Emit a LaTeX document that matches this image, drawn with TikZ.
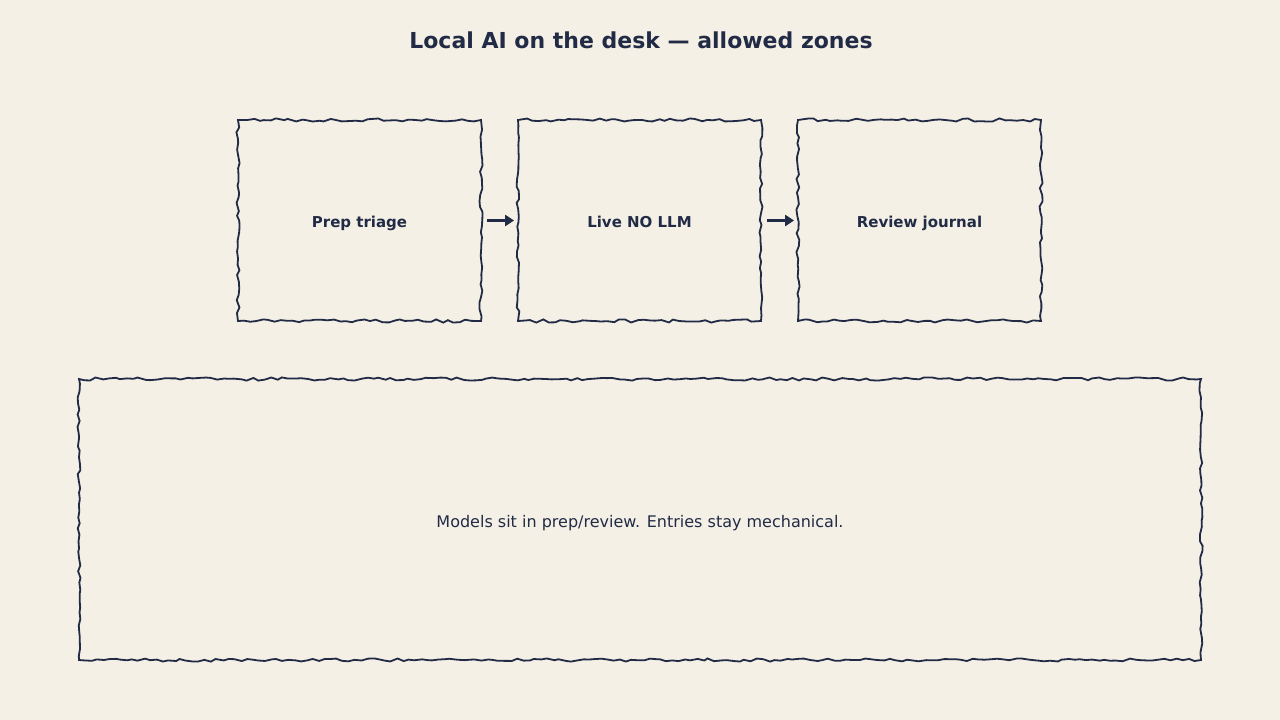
\documentclass[tikz,border=0pt]{standalone}
\usepackage{fontspec}
\setmainfont{DejaVu Sans}
\usetikzlibrary{decorations.pathmorphing,arrows.meta}
\definecolor{bg}{HTML}{F4F0E6}
\definecolor{ink}{HTML}{222B45}
\begin{document}
\begin{tikzpicture}[x=1pt,y=-1pt,
  rough/.style={draw=ink, line width=1.8pt, decorate,
    decoration={random steps, segment length=6pt, amplitude=1.6pt}},
  zone/.style={rough, minimum width=243pt, minimum height=201pt, inner sep=0pt,
    text height=13pt, text depth=0pt,
    text=ink, font=\bfseries\fontsize{15}{18}\selectfont},
  flow/.style={draw=ink, line width=3pt, -{Triangle[length=9pt,width=11pt]},
    shorten <=5pt, shorten >=3pt}]
\pgfmathsetseed{7}
\fill[bg] (0,0) rectangle (1280,720);
\useasboundingbox (0,0) rectangle (1280,720);
\node[text=ink, font=\bfseries\fontsize{22}{26}\selectfont] (title) at (641,40) {Local AI on the desk — allowed zones};
\node[zone] (prep) at (359.5,220.5) {Prep triage};
\node[zone] (live) at (639.5,220.5) {Live NO LLM};
\node[zone] (rev) at (919.5,220.5) {Review journal};
\node[rough, minimum width=1122pt, minimum height=281pt, inner sep=0pt, text=ink,
  text height=15pt, text depth=0pt,
  font=\fontsize{16}{19}\selectfont] (note) at (640,519.5) {Models sit in prep/review. Entries stay mechanical.};
\draw[flow] (prep.east) -- (live.west);
\draw[flow] (live.east) -- (rev.west);
\end{tikzpicture}
\end{document}
